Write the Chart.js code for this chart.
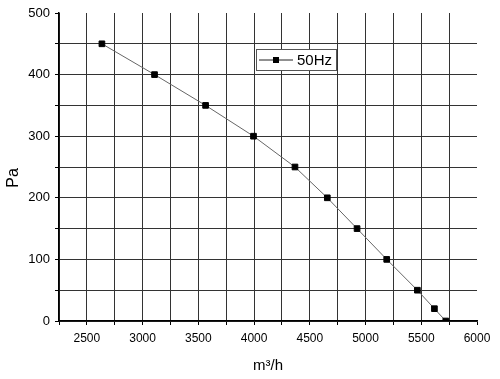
<!DOCTYPE html>
<html>
<head>
<meta charset="utf-8">
<script src="https://cdn.jsdelivr.net/npm/chart.js@4/dist/chart.umd.min.js"></script>
<style>
  html, body { margin: 0; padding: 0; background: #fff; }
  #wrap { width: 500px; height: 379px; }
</style>
</head>
<body>
<div id="wrap"><canvas id="fanChart" width="500" height="379"></canvas></div>
<script>
// airflow (m3/h) vs static pressure (Pa)
const flowValues = [2635, 3107, 3565, 3995, 4367, 4657, 4924, 5190, 5465, 5618, 5720];
const pressureValues = [450, 400, 350, 300, 250, 200, 150, 100, 50, 20, 0];
const seriesLabel = '50Hz';
const xTitle = 'm\u00B3/h';
const yTitle = 'Pa';

const points = flowValues.map((x, i) => ({ x: x, y: pressureValues[i] }));
const fontFamily = '"Liberation Sans", Arial, sans-serif';

// legend box inside the plot + y title a bit below centre, Origin style
const extras = {
  id: 'extras',
  afterDraw(chart) {
    const ctx = chart.ctx;
    const left = 256, top = 49, w = 80, h = 21;
    ctx.save();
    ctx.fillStyle = '#fff';
    ctx.fillRect(left, top, w, h);
    ctx.strokeStyle = '#555';
    ctx.lineWidth = 1;
    ctx.strokeRect(left + 0.5, top + 0.5, w, h);
    const midY = top + h / 2 + 0.5;
    ctx.strokeStyle = '#222';
    ctx.beginPath();
    ctx.moveTo(259, midY);
    ctx.lineTo(293, midY);
    ctx.stroke();
    ctx.fillStyle = '#000';
    ctx.fillRect(273, midY - 3, 6, 6);
    ctx.font = '15px ' + fontFamily;
    ctx.textBaseline = 'middle';
    ctx.fillText(seriesLabel, 297, midY + 1);

    ctx.translate(13, 178);
    ctx.rotate(-Math.PI / 2);
    ctx.font = '16px ' + fontFamily;
    ctx.textAlign = 'center';
    ctx.fillText(yTitle, 0, 1);
    ctx.restore();
  }
};

new Chart(document.getElementById('fanChart').getContext('2d'), {
  type: 'scatter',
  data: {
    datasets: [{
      label: seriesLabel,
      data: points,
      showLine: true,
      borderColor: '#666',
      borderWidth: 1,
      pointStyle: 'rect',
      pointRadius: 4,
      pointBorderWidth: 1,
      pointBackgroundColor: '#000',
      pointBorderColor: '#000'
    }]
  },
  options: {
    responsive: false,
    animation: false,
    layout: { padding: { top: 13, right: 23, left: 0, bottom: 0 } },
    plugins: {
      legend: { display: false },
      tooltip: { enabled: false }
    },
    scales: {
      x: {
        type: 'linear',
        min: 2250,
        max: 6000,
        afterFit(scale) { scale.height = 58; },
        border: { color: '#000', width: 1.5 },
        grid: {
          color: c => (c.tick && c.tick.value === 6000) ? 'rgba(0,0,0,0)' : '#333',
          lineWidth: 1,
          tickLength: 4,
          tickColor: '#000'
        },
        ticks: {
          stepSize: 250,
          autoSkip: false,
          maxRotation: 0,
          padding: 6,
          color: '#000',
          font: { family: fontFamily, size: 12 },
          callback: v => (v % 500 === 0 ? String(v) : '')
        },
        title: {
          display: true,
          text: xTitle,
          color: '#000',
          font: { family: fontFamily, size: 15 },
          padding: { top: 2, bottom: 4 }
        }
      },
      y: {
        type: 'linear',
        min: 0,
        max: 500,
        afterFit(scale) { scale.width = 59; },
        border: { color: '#000', width: 1.5 },
        grid: {
          color: c => (c.tick && c.tick.value === 500) ? 'rgba(0,0,0,0)' : '#333',
          lineWidth: 1,
          tickLength: 4,
          tickColor: '#000'
        },
        ticks: {
          stepSize: 50,
          autoSkip: false,
          padding: 5,
          color: '#000',
          font: { family: fontFamily, size: 13 },
          callback: v => (v % 100 === 0 ? String(v) : '')
        }
      }
    }
  },
  plugins: [extras]
});
</script>
</body>
</html>
